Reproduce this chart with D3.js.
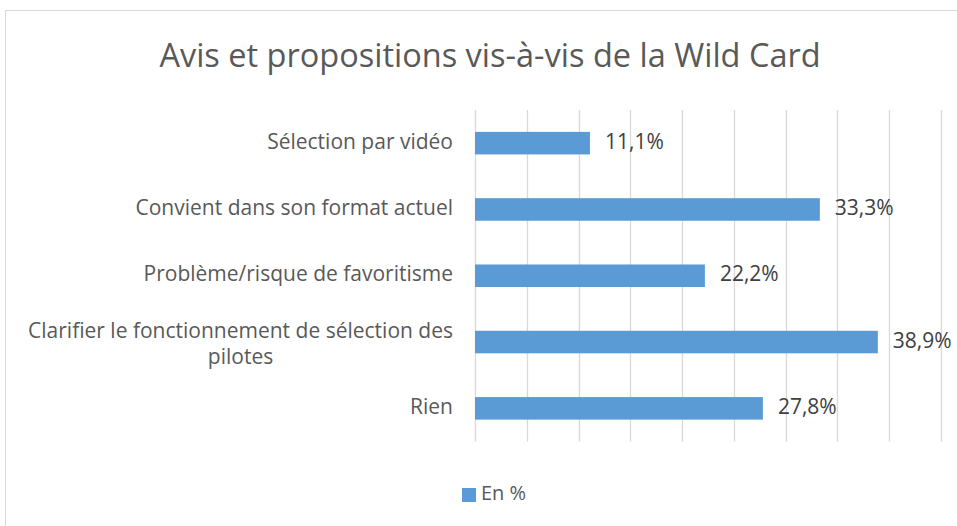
<!DOCTYPE html>
<html>
<head>
<meta charset="utf-8">
<script src="https://cdn.jsdelivr.net/npm/d3@7"></script>
<style>
body{margin:0;background:#fff;}
svg{display:block;font-family:"Open Sans",Lato,sans-serif;}
</style>
</head>
<body>
<div id="chart"></div>
<script>
const categories=["Sélection par vidéo","Convient dans son format actuel","Problème/risque de favoritisme","Clarifier le fonctionnement de sélection des pilotes","Rien"];
const values=[11.1,33.3,22.2,38.9,27.8];
const seriesName="En %";
const xTicks=[0,5,10,15,20,25,30,35,40,45];

const width=957,height=526;
const plot={left:475,right:941,top:110,bottom:441.5};
const svg=d3.select("#chart").append("svg").attr("width",width).attr("height",height);

// chart border (right/bottom run off the picture)
svg.append("rect").attr("x",5.5).attr("y",10.5).attr("width",1000).attr("height",600)
  .attr("fill","#fff").attr("stroke","#d9d9d9");

svg.append("text").attr("x",490).attr("y",58).attr("text-anchor","middle")
  .attr("dominant-baseline","middle").attr("fill","#595959").style("font-size","32.5px")
  .text("Avis et propositions vis-à-vis de la Wild Card");

const x=d3.scaleLinear().domain([0,45]).range([plot.left,plot.right]);
const y=d3.scaleBand().domain(categories).range([plot.top,plot.bottom]).paddingInner(0.66).paddingOuter(0.33);

svg.append("g").selectAll("line").data(xTicks).enter().append("line")
  .attr("x1",d=>Math.round(x(d))+0.5).attr("x2",d=>Math.round(x(d))+0.5)
  .attr("y1",plot.top).attr("y2",plot.bottom)
  .attr("stroke","#d9d9d9").attr("stroke-width",1.3);

const data=categories.map((c,i)=>({cat:c,val:values[i]}));

svg.append("g").selectAll("rect").data(data).enter().append("rect")
  .attr("x",x(0)).attr("y",d=>y(d.cat))
  .attr("width",d=>x(d.val)-x(0)).attr("height",y.bandwidth())
  .attr("fill","#5b9bd5");

const fmt=v=>v.toFixed(1).replace(".",",")+"%";
svg.append("g").selectAll("text").data(data).enter().append("text")
  .attr("x",d=>x(d.val)+15).attr("y",d=>y(d.cat)+y.bandwidth()/2)
  .attr("dominant-baseline","middle").attr("fill","#404040").style("font-size","21px")
  .text(d=>fmt(d.val));

// category labels, wrapped and centred as block, right aligned to the axis
const labelG=svg.append("g").style("font-size","21px").attr("fill","#595959");
const maxW=440,lineH=26,rightX=453;
categories.forEach(c=>{
  const words=c.split(" ");
  const lines=[];
  let cur="";
  const probe=labelG.append("text");
  words.forEach(w=>{
    const test=cur?cur+" "+w:w;
    probe.text(test);
    if(probe.node().getComputedTextLength()>maxW&&cur){lines.push(cur);cur=w;}
    else cur=test;
  });
  lines.push(cur);
  const widths=lines.map(l=>{probe.text(l);return probe.node().getComputedTextLength();});
  probe.remove();
  const blockW=d3.max(widths);
  const cx=rightX-blockW/2;
  const cy=y(c)+y.bandwidth()/2+(lines.length>1?3:0);
  const t=labelG.append("text").attr("text-anchor","middle");
  lines.forEach((l,i)=>{
    t.append("tspan").attr("x",cx).attr("y",cy+(i-(lines.length-1)/2)*lineH)
      .attr("dominant-baseline","middle").text(l);
  });
});

// legend
const leg=svg.append("g").attr("transform","translate(462,488)");
leg.append("rect").attr("width",14).attr("height",14).attr("fill","#5b9bd5");
leg.append("text").attr("x",19).attr("y",7).attr("dominant-baseline","middle")
  .attr("fill","#595959").style("font-size","20px").text(seriesName);
</script>
</body>
</html>
